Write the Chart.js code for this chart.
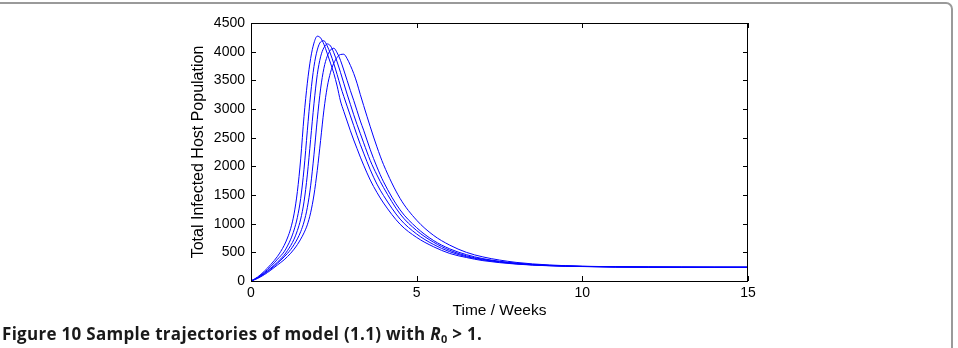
<!DOCTYPE html>
<html>
<head>
<meta charset="utf-8">
<script src="https://cdn.jsdelivr.net/npm/chart.js@4.4.1/dist/chart.umd.min.js"></script>
<style>
  html, body { margin: 0; padding: 0; background: #fff; }
  body { width: 958px; height: 348px; position: relative; overflow: hidden; }
  #frame {
    position: absolute; left: -10px; top: 2px; width: 963px; height: 360px;
    border: 2px solid #9a9a9a; border-top-right-radius: 7px; box-sizing: border-box;
  }
  #chart { position: absolute; left: 0; top: 0; }
  #caption {
    position: absolute; left: 2px; top: 324px; white-space: nowrap;
    font-family: "Open Sans", sans-serif; font-weight: 700; font-size: 17px; line-height: 20px;
    letter-spacing: 0.3px; color: #1a1a1a;
  }
  #caption sub { font-size: 11px; vertical-align: -3px; line-height: 0; }
</style>
</head>
<body>
<div id="frame"></div>
<canvas id="chart" width="958" height="330"></canvas>
<div id="caption">Figure 10 Sample trajectories of model (1.1) with <i>R</i><sub>0</sub> &gt; 1.</div>
<script>
// time axis (weeks) shared by all trajectories
const weeks = [0, 0.2, 0.4, 0.6, 0.8, 1.0,
  1.1, 1.2, 1.3, 1.4, 1.5, 1.6, 1.7, 1.8, 1.9, 2.0,
  2.1, 2.2, 2.3, 2.4, 2.5, 2.6, 2.7, 2.8, 2.9, 3.0,
  3.1, 3.2, 3.3, 3.4, 3.6, 3.8, 4.0, 4.5, 5.0, 5.5,
  6.0, 6.5, 7.0, 8, 9, 10, 11, 12, 13, 14, 15];

// five sample trajectories
const traj1 = [0, 70, 170, 290, 430, 620,
  750, 920, 1170, 1560, 2130, 2870, 3450, 3880, 4150, 4270,
  4240, 4130, 3970, 3800, 3620, 3400, 3140, 2960, 2790, 2620,
  2460, 2310, 2160, 2020, 1760, 1545, 1360, 990, 760, 600,
  480, 410, 355, 295, 265, 252, 245, 242, 241, 240, 240];
const traj2 = [0, 62, 150, 255, 380, 510,
  610, 730, 890, 1110, 1440, 1950, 2620, 3260, 3740, 4030,
  4170, 4190, 4100, 3960, 3790, 3600, 3400, 3220, 3050, 2880,
  2710, 2540, 2380, 2230, 1940, 1690, 1490, 1080, 820, 640,
  510, 425, 368, 300, 268, 253, 246, 242, 241, 240, 240];
const traj3 = [0, 55, 135, 225, 330, 450,
  530, 620, 730, 880, 1080, 1380, 1850, 2470, 3090, 3600,
  3910, 4070, 4135, 4100, 3980, 3820, 3640, 3450, 3260, 3080,
  2900, 2730, 2570, 2410, 2100, 1850, 1630, 1170, 880, 680,
  535, 440, 378, 305, 270, 254, 246, 243, 241, 240, 240];
const traj4 = [0, 50, 125, 210, 310, 420,
  480, 550, 635, 735, 860, 1030, 1280, 1660, 2200, 2820,
  3350, 3710, 3920, 4030, 4060, 3980, 3850, 3680, 3500, 3320,
  3150, 2970, 2790, 2630, 2290, 1990, 1730, 1240, 930, 710,
  560, 460, 390, 312, 273, 255, 247, 243, 241, 240, 240];
const traj5 = [0, 45, 110, 190, 280, 370,
  425, 485, 555, 635, 730, 840, 980, 1190, 1500, 1930,
  2450, 2980, 3380, 3640, 3800, 3900, 3950, 3955, 3880, 3760,
  3620, 3450, 3250, 3060, 2690, 2340, 2030, 1440, 1060, 800,
  625, 500, 420, 325, 280, 258, 248, 244, 242, 241, 240];

const xTicks = [0, 5, 10, 15];
const yTicks = [0, 500, 1000, 1500, 2000, 2500, 3000, 3500, 4000, 4500];

const tickFont = { family: "'Liberation Sans', Arial, sans-serif", size: 14 };

function series(vals){
  return {
    data: weeks.map((t, i) => ({ x: t, y: vals[i] })),
    borderColor: "#0000ff",
    borderWidth: 1,
    pointRadius: 0,
    fill: false,
    cubicInterpolationMode: "monotone"
  };
}

// matlab-like frame with inward ticks on all four sides
const boxPlugin = {
  id: "box",
  afterDraw(chart){
    const { ctx, chartArea: a, scales } = chart;
    ctx.save();
    ctx.strokeStyle = "#000";
    ctx.lineWidth = 1;
    ctx.strokeRect(Math.round(a.left) + 0.5, Math.round(a.top) + 0.5,
      Math.round(a.right - a.left) - 1, Math.round(a.bottom - a.top));
    ctx.beginPath();
    xTicks.forEach(v => {
      const px = Math.round(scales.x.getPixelForValue(v)) + 0.5;
      ctx.moveTo(px, a.bottom); ctx.lineTo(px, a.bottom - 5);
      ctx.moveTo(px, a.top); ctx.lineTo(px, a.top + 5);
    });
    yTicks.forEach(v => {
      const py = Math.round(scales.y.getPixelForValue(v)) + 0.5;
      ctx.moveTo(a.left, py); ctx.lineTo(a.left + 5, py);
      ctx.moveTo(a.right, py); ctx.lineTo(a.right - 5, py);
    });
    ctx.stroke();
    ctx.restore();
  }
};

new Chart(document.getElementById("chart"), {
  type: "line",
  data: {
    datasets: [series(traj1), series(traj2), series(traj3), series(traj4), series(traj5)]
  },
  options: {
    responsive: false,
    animation: false,
    devicePixelRatio: 1,
    layout: { padding: { left: 170, right: 210, top: 23, bottom: 0 } },
    plugins: { legend: { display: false }, tooltip: { enabled: false } },
    scales: {
      x: {
        type: "linear", min: 0, max: 15,
        afterFit: s => { s.height = 49; },
        afterBuildTicks: s => { s.ticks = xTicks.map(v => ({ value: v })); },
        ticks: { color: "#000", font: tickFont, padding: 4, maxRotation: 0, callback: v => String(v) },
        grid: { display: false, drawTicks: false },
        border: { display: false },
        title: { display: true, text: "Time / Weeks", color: "#000",
                 font: { family: "'Liberation Sans', Arial, sans-serif", size: 15.5 },
                 padding: { top: 0, bottom: 10 } }
      },
      y: {
        min: 0, max: 4500,
        afterFit: s => { s.width = 81; },
        afterBuildTicks: s => { s.ticks = yTicks.map(v => ({ value: v })); },
        ticks: { color: "#000", font: tickFont, padding: 6, callback: v => String(v) },
        grid: { display: false, drawTicks: false },
        border: { display: false },
        title: { display: true, text: "Total Infected Host Population", color: "#000",
                 font: { family: "'Liberation Sans', Arial, sans-serif", size: 16 },
                 padding: { top: 19, bottom: 0 } }
      }
    }
  },
  plugins: [boxPlugin]
});
</script>
</body>
</html>
